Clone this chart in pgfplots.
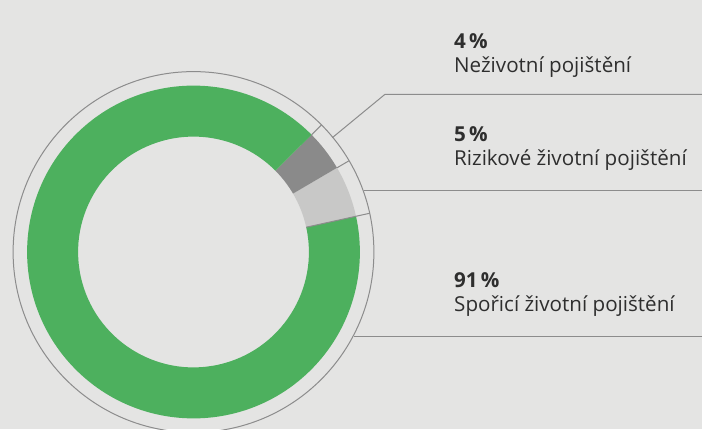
\documentclass[border=0pt]{standalone}
\usepackage{fontspec}
\setmainfont{Open Sans}
\usepackage{pgfplots}
\usepackage{pgfplotstable}
\pgfplotsset{compat=1.18}

\definecolor{bgc}{HTML}{E4E4E3}
\definecolor{segA}{HTML}{C8C8C7}
\definecolor{segB}{HTML}{8A8A8A}
\definecolor{segC}{HTML}{4DB05E}
\definecolor{linec}{HTML}{8C8C8C}
\definecolor{txt}{HTML}{2E2E2E}

% shares in %, counter-clockwise from the start angle
\pgfplotstableread[col sep=comma]{
value
5
4
91
}\donut

\def\cx{193.5}\def\cy{177}
\def\ri{115.4}\def\ro{166.4}\def\rr{180.4}

\begin{document}
\begin{tikzpicture}[
  pct/.style={anchor=base west, inner sep=0pt, text=txt, font=\fontsize{20.6}{24}\selectfont\bfseries},
  lbl/.style={anchor=base west, inner sep=0pt, text=txt, font=\fontsize{20.6}{24}\selectfont},
]
\path[use as bounding box, fill=bgc] (0,0) rectangle (702pt,429pt);
\clip (0,0) rectangle (702pt,429pt);
\pgfplotstablegetelem{0}{value}\of\donut \pgfmathsetmacro\aA{12.4}\pgfmathsetmacro\aB{\aA+3.6*\pgfplotsretval}
\pgfplotstablegetelem{1}{value}\of\donut \pgfmathsetmacro\aC{\aB+3.6*\pgfplotsretval}
\pgfplotstablegetelem{2}{value}\of\donut \pgfmathsetmacro\aD{\aC+3.6*\pgfplotsretval}
\begin{axis}[
  scale only axis, width=702pt, height=429pt,
  xmin=0, xmax=702, ymin=0, ymax=429,
  axis lines=none, ticks=none, clip=false,
]
% ring segments
\fill[segA] (axis cs:{\cx+\ro*cos(\aA)},{\cy+\ro*sin(\aA)}) arc[start angle=\aA, end angle=\aB, radius=\ro pt]
  -- (axis cs:{\cx+\ri*cos(\aB)},{\cy+\ri*sin(\aB)}) arc[start angle=\aB, end angle=\aA, radius=\ri pt] -- cycle;
\fill[segB] (axis cs:{\cx+\ro*cos(\aB)},{\cy+\ro*sin(\aB)}) arc[start angle=\aB, end angle=\aC, radius=\ro pt]
  -- (axis cs:{\cx+\ri*cos(\aC)},{\cy+\ri*sin(\aC)}) arc[start angle=\aC, end angle=\aB, radius=\ri pt] -- cycle;
\fill[segC] (axis cs:{\cx+\ro*cos(\aC)},{\cy+\ro*sin(\aC)}) arc[start angle=\aC, end angle=\aD, radius=\ro pt]
  -- (axis cs:{\cx+\ri*cos(\aD)},{\cy+\ri*sin(\aD)}) arc[start angle=\aD, end angle=\aC, radius=\ri pt] -- cycle;
% boundaries and outer ring
\draw[linec, line width=1pt] (axis cs:{\cx+\ri*cos(\aA)},{\cy+\ri*sin(\aA)}) -- (axis cs:{\cx+\rr*cos(\aA)},{\cy+\rr*sin(\aA)});
\draw[linec, line width=1pt] (axis cs:{\cx+\ro*cos(\aB)},{\cy+\ro*sin(\aB)}) -- (axis cs:{\cx+\rr*cos(\aB)},{\cy+\rr*sin(\aB)});
\draw[linec, line width=1pt] (axis cs:{\cx+\ro*cos(\aC)},{\cy+\ro*sin(\aC)}) -- (axis cs:{\cx+\rr*cos(\aC)},{\cy+\rr*sin(\aC)});
\draw[linec, line width=1pt] (axis cs:\cx,\cy) circle[radius=\rr pt];
% leader lines
\draw[linec, line width=1pt] (axis cs:332.3,291.3) -- (axis cs:385,334.7) -- (axis cs:702,334.7);
\draw[linec, line width=1pt] (axis cs:364,238) -- (axis cs:702,238);
\draw[linec, line width=1pt] (axis cs:354,92.3) -- (axis cs:702,92.3);
% labels
\node[pct] at (axis cs:454,380.7) {4\hspace{0.15em}\%};
\node[lbl] at (axis cs:454,356.5) {Neživotní pojištění};
\node[pct] at (axis cs:454,287.5) {5\hspace{0.15em}\%};
\node[lbl] at (axis cs:454,263.5) {Rizikové životní pojištění};
\node[pct] at (axis cs:454,141.3) {91\hspace{0.15em}\%};
\node[lbl] at (axis cs:454,117.5) {Spořicí životní pojištění};
\end{axis}
\end{tikzpicture}
\end{document}
